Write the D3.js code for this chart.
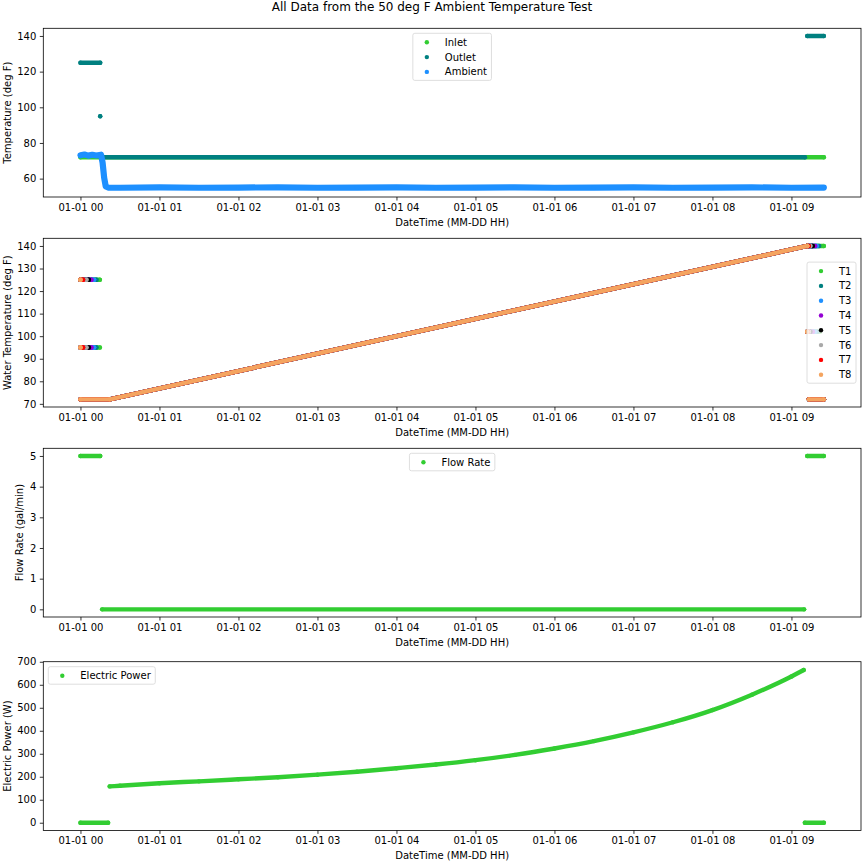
<!DOCTYPE html>
<html>
<head>
<meta charset="utf-8">
<script src="https://cdn.jsdelivr.net/npm/d3@7"></script>
<style>
  body { margin: 0; background: #fff; }
  text { font-family: "DejaVu Sans", sans-serif; fill: #000; }
</style>
</head>
<body>
<svg id="chart" width="864" height="864"></svg>
<script>
// ---- data (time in hours after 01-01 00:00) ----
var hourTicks = [0, 1, 2, 3, 4, 5, 6, 7, 8, 9];
var tempTicks = [60, 80, 100, 120, 140];
var waterTicks = [70, 80, 90, 100, 110, 120, 130, 140];
var flowTicks = [0, 1, 2, 3, 4, 5];
var powerTicks = [0, 100, 200, 300, 400, 500, 600, 700];

var inlet = [[[0, 72], [9.41, 72]]];
var outlet = [
  [[0, 125], [0.25, 125]],
  [[0.25, 95]],
  [[0.27, 72], [9.17, 72]],
  [[9.2, 140], [9.41, 140]]
];
var ambient = [
  [[0, 73.1], [0.05, 73.5], [0.1, 72.9], [0.15, 73.4], [0.2, 73.0], [0.26, 73.4],
   [0.28, 69], [0.3, 60.5], [0.32, 55.6], [0.35, 55.0], [0.5, 54.9], [1, 55.1],
   [1.5, 54.9], [2, 55.0], [2.5, 55.1], [3, 54.9], [3.5, 55.0], [4, 55.1],
   [4.5, 54.9], [5, 55.0], [5.5, 55.1], [6, 54.9], [6.5, 55.0], [7, 55.1],
   [7.5, 54.9], [8, 55.0], [8.5, 55.1], [9, 54.9], [9.41, 55.0]]
];

var sensorNames = ['T1', 'T2', 'T3', 'T4', 'T5', 'T6', 'T7', 'T8'];
var sensorColors = ['#32cd32', '#008080', '#1e90ff', '#9400d3', '#000000', '#a9a9a9', '#ff0000', '#f4a460'];
var startHotEnd = [0.245, 0.202, 0.173, 0.139, 0.106, 0.076, 0.034, 0];   // 125 and 95 rows
var finalHotEnd = [9.41, 9.35, 9.32, 9.30, 9.27, 9.24, 9.22, 9.2];          // 140 row
var finalMidEnd = [9.36, 9.33, 9.30, 9.27, 9.24, 9.22, 9.21, 9.2];          // 102 row
var waterRamp = [[0, 72], [0.37, 72], [9.2, 140]];
var waterCold = [[9.22, 72], [9.41, 72]];

var flowRate = [
  [[0, 5], [0.25, 5]],
  [[0.275, 0], [9.16, 0]],
  [[9.2, 5], [9.41, 5]]
];

var electricPower = [
  [[0, 0], [0.35, 0]],
  [[0.37, 158], [0.5, 161], [1, 172], [1.5, 180], [2, 189], [2.5, 198], [3, 209],
   [3.5, 222], [4, 237], [4.5, 253], [5, 272], [5.5, 295], [6, 323], [6.5, 355],
   [7, 393], [7.5, 437], [8, 490], [8.5, 557], [9, 636], [9.155, 664]],
  [[9.17, 0], [9.41, 0]]
];

// ---- layout ----
var svg = d3.select('#chart');
var left = 43.3, right = 861, panelHeight = 168.7;
var panelTops = [28.3, 238.3, 448.3, 661.7];
var base = Date.UTC(2000, 0, 1);
var at = function(h) { return new Date(base + h * 3600e3); };
var dot = 4.4;

var pad = function(lo, hi) {
  var p = (hi - lo) * 0.05;
  return [lo - p, hi + p];
};

var xDom = pad(0, 9.41);
var x = d3.scaleUtc().domain([at(xDom[0]), at(xDom[1])]).range([left, right]);

var sensorSeries = sensorNames.map(function(name, i) {
  return {
    name: name, color: sensorColors[i],
    segments: [
      [[0, 125], [startHotEnd[i], 125]],
      [[0, 95], [startHotEnd[i], 95]],
      waterRamp,
      [[9.2, 140], [finalHotEnd[i], 140]],
      [[9.2, 102], [finalMidEnd[i], 102]],
      waterCold
    ]
  };
});

var panels = [
  { ylabel: 'Temperature (deg F)', extent: [54, 140], ticks: tempTicks, legend: 'upper center',
    series: [
      { name: 'Inlet', color: '#32cd32', segments: inlet },
      { name: 'Outlet', color: '#008080', segments: outlet },
      { name: 'Ambient', color: '#1e90ff', segments: ambient, width: 6.2 }
    ] },
  { ylabel: 'Water Temperature (deg F)', extent: [72, 140], ticks: waterTicks, legend: 'center right',
    series: sensorSeries },
  { ylabel: 'Flow Rate (gal/min)', extent: [0, 5], ticks: flowTicks, legend: 'upper center',
    series: [{ name: 'Flow Rate', color: '#32cd32', segments: flowRate }] },
  { ylabel: 'Electric Power (W)', extent: [0, 667], ticks: powerTicks, legend: 'upper left',
    series: [{ name: 'Electric Power', color: '#32cd32', segments: electricPower, smooth: true }] }
];

svg.append('text')
  .attr('x', 432).attr('y', 11)
  .attr('text-anchor', 'middle')
  .style('font-size', '12px')
  .text('All Data from the 50 deg F Ambient Temperature Test');

var drawPanel = function(p, idx) {
  var top = panelTops[idx], bottom = top + panelHeight;
  var y = d3.scaleLinear().domain(pad(p.extent[0], p.extent[1])).range([bottom, top]);
  var g = svg.append('g');
  var clipId = 'clip' + idx;
  svg.append('clipPath').attr('id', clipId).append('rect')
    .attr('x', left).attr('y', top).attr('width', right - left).attr('height', panelHeight);

  var marks = g.append('g').attr('clip-path', 'url(#' + clipId + ')');

  p.series.forEach(function(s) {
    var sg = marks.append('g');
    var w = s.width || dot;
    var line = d3.line()
      .x(function(d) { return x(at(d[0])); })
      .y(function(d) { return y(d[1]); })
      .curve(s.smooth ? d3.curveMonotoneX : d3.curveLinear);
    s.segments.forEach(function(seg) {
      var pts = seg.length === 1 ? [seg[0], seg[0]] : seg;
      sg.append('path')
        .attr('d', line(pts))
        .attr('fill', 'none')
        .attr('stroke', s.color)
        .attr('stroke-width', w)
        .attr('stroke-linecap', 'round')
        .attr('stroke-linejoin', 'round');
    });
    sg.selectAll('circle')
      .data(d3.merge(s.segments))
      .enter().append('circle')
      .attr('cx', function(d) { return x(at(d[0])); })
      .attr('cy', function(d) { return y(d[1]); })
      .attr('r', dot / 2)
      .attr('fill', s.color);
  });

  // axes
  var xAxis = g.append('g').attr('transform', 'translate(0,' + bottom + ')')
    .call(d3.axisBottom(x).tickValues(hourTicks.map(at))
      .tickFormat(d3.utcFormat('%m-%d %H')).tickSize(3.5).tickPadding(3.5));
  var yAxis = g.append('g').attr('transform', 'translate(' + left + ',0)')
    .call(d3.axisLeft(y).tickValues(p.ticks).tickFormat(d3.format('d')).tickSize(3.5).tickPadding(3.5));
  [xAxis, yAxis].forEach(function(a) {
    a.select('.domain').remove();
    a.attr('font-family', null).attr('font-size', null);
    a.selectAll('line').attr('stroke', '#000').attr('stroke-width', 0.8);
    a.selectAll('text').style('font-size', '10px');
  });

  g.append('rect')
    .attr('x', left).attr('y', top)
    .attr('width', right - left).attr('height', panelHeight)
    .attr('fill', 'none').attr('stroke', '#000').attr('stroke-width', 0.8);

  g.append('text')
    .attr('x', (left + right) / 2).attr('y', bottom + 25.5)
    .attr('text-anchor', 'middle').attr('dominant-baseline', 'central')
    .style('font-size', '10px')
    .text('DateTime (MM-DD HH)');

  var tb = yAxis.node().getBBox();
  var lx = left + tb.x - 4 - 6.2;
  g.append('text')
    .attr('transform', 'translate(' + lx + ',' + (top + bottom) / 2 + ') rotate(-90)')
    .attr('text-anchor', 'middle').attr('dominant-baseline', 'central')
    .style('font-size', '10px')
    .text(p.ylabel);

  drawLegend(g, p, top, bottom);
};

var drawLegend = function(g, p, top, bottom) {
  var lg = g.append('g');
  var box = lg.append('rect');
  var rowStep = 14.8;
  var texts = p.series.map(function(s, i) {
    lg.append('circle').attr('cx', 14).attr('cy', 9 + i * rowStep).attr('r', 2.2).attr('fill', s.color);
    return lg.append('text').attr('x', 32).attr('y', 9 + i * rowStep)
      .attr('dominant-baseline', 'central').style('font-size', '10px').text(s.name);
  });
  var tw = d3.max(texts, function(t) { return t.node().getComputedTextLength(); });
  var bw = 32 + tw + 4.5;
  var bh = 9 + (p.series.length - 1) * rowStep + 8.5;
  box.attr('width', bw).attr('height', bh).attr('rx', 2)
    .attr('fill', 'rgba(255,255,255,0.8)').attr('stroke', '#d6d6d6').attr('stroke-width', 0.8);
  var lx, ly;
  if (p.legend === 'upper center') { lx = (left + right) / 2 - bw / 2; ly = top + 5; }
  else if (p.legend === 'upper left') { lx = left + 5; ly = top + 5; }
  else { lx = right - 5 - bw; ly = (top + bottom) / 2 - bh / 2; }
  lg.attr('transform', 'translate(' + lx + ',' + ly + ')');
};

panels.forEach(drawPanel);
</script>
</body>
</html>
